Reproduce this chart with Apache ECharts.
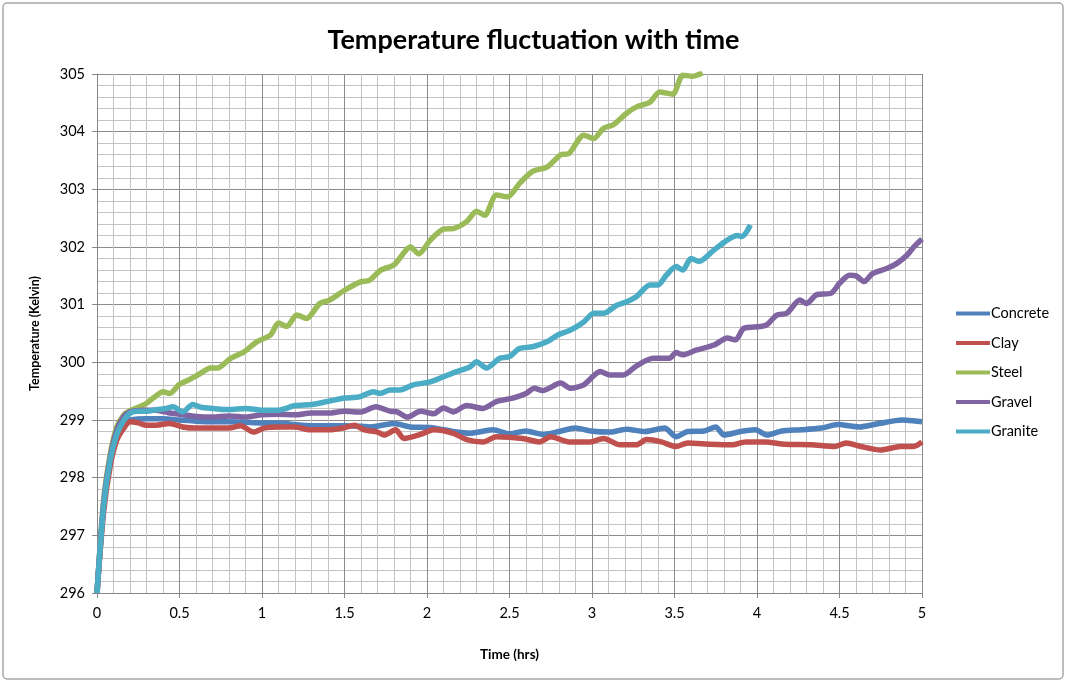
<!DOCTYPE html>
<html>
<head>
<meta charset="utf-8">
<script src="https://cdn.jsdelivr.net/npm/echarts@6/dist/echarts.min.js"></script>
<style>
html,body{margin:0;padding:0;background:#fff;}
#chart{width:1067px;height:683px;}
</style>
</head>
<body>
<div id="chart"></div>
<script>
var seriesNames = ["Concrete", "Clay", "Steel", "Gravel", "Granite"];
var seriesColors = ["#4F81BD", "#C0504D", "#9BBB59", "#8064A2", "#4BACC6"];
var xTicks = [0, 0.5, 1, 1.5, 2, 2.5, 3, 3.5, 4, 4.5, 5];

var concrete = [[0,296],[0.04,297.5],[0.08,298.3],[0.12,298.75],[0.16,298.95],[0.2,299.0],[0.3,299.02],[0.4,299.02],[0.5,299.0],[0.6,298.98],[0.7,298.97],[0.8,298.97],[0.9,298.96],[1.0,298.95],[1.1,298.95],[1.2,298.92],[1.3,298.9],[1.4,298.9],[1.5,298.9],[1.6,298.89],[1.655,298.88],[1.8,298.94],[1.9,298.88],[2.02,298.87],[2.16,298.8],[2.26,298.77],[2.4,298.83],[2.5,298.76],[2.6,298.81],[2.7,298.75],[2.8,298.8],[2.9,298.86],[2.99,298.81],[3.11,298.79],[3.21,298.84],[3.32,298.8],[3.44,298.86],[3.51,298.71],[3.58,298.8],[3.68,298.81],[3.75,298.88],[3.8,298.74],[3.9,298.8],[3.99,298.83],[4.06,298.74],[4.15,298.81],[4.27,298.83],[4.39,298.86],[4.49,298.92],[4.62,298.88],[4.74,298.94],[4.88,299.0],[5.0,298.97]];

var clay = [[0,296],[0.04,297.4],[0.08,298.2],[0.12,298.65],[0.16,298.85],[0.2,298.97],[0.25,298.95],[0.3,298.91],[0.36,298.91],[0.44,298.94],[0.52,298.88],[0.6,298.86],[0.7,298.86],[0.8,298.86],[0.87,298.9],[0.95,298.79],[1.01,298.86],[1.1,298.88],[1.2,298.88],[1.29,298.83],[1.41,298.83],[1.49,298.86],[1.56,298.91],[1.62,298.83],[1.7,298.79],[1.74,298.74],[1.81,298.83],[1.86,298.68],[1.96,298.75],[2.04,298.83],[2.16,298.77],[2.24,298.66],[2.34,298.62],[2.42,298.71],[2.58,298.68],[2.68,298.62],[2.75,298.71],[2.86,298.62],[2.99,298.62],[3.07,298.68],[3.17,298.57],[3.27,298.57],[3.33,298.66],[3.42,298.62],[3.51,298.54],[3.58,298.6],[3.72,298.58],[3.85,298.57],[3.93,298.62],[4.05,298.62],[4.17,298.58],[4.33,298.57],[4.47,298.54],[4.54,298.6],[4.63,298.54],[4.75,298.48],[4.87,298.54],[4.95,298.54],[5.0,298.62]];

var steel = [[0,296],[0.04,297.6],[0.08,298.4],[0.12,298.88],[0.16,299.08],[0.2,299.16],[0.25,299.22],[0.29,299.27],[0.34,299.38],[0.4,299.49],[0.44,299.46],[0.5,299.62],[0.56,299.7],[0.61,299.78],[0.69,299.9],[0.73,299.9],[0.81,300.07],[0.89,300.18],[0.97,300.36],[1.05,300.47],[1.1,300.68],[1.15,300.62],[1.21,300.82],[1.27,300.76],[1.35,301.02],[1.41,301.08],[1.5,301.25],[1.6,301.4],[1.65,301.42],[1.72,301.6],[1.8,301.69],[1.9,302.0],[1.95,301.88],[2.02,302.12],[2.1,302.31],[2.16,302.32],[2.24,302.44],[2.3,302.62],[2.35,302.55],[2.42,302.9],[2.49,302.87],[2.56,303.1],[2.64,303.31],[2.73,303.39],[2.81,303.6],[2.86,303.62],[2.95,303.94],[3.01,303.88],[3.07,304.06],[3.13,304.12],[3.21,304.32],[3.27,304.43],[3.35,304.51],[3.41,304.69],[3.49,304.65],[3.55,304.98],[3.61,304.96],[3.67,305.02]];

var gravel = [[0,296],[0.04,297.55],[0.08,298.35],[0.12,298.82],[0.16,299.05],[0.2,299.14],[0.28,299.17],[0.36,299.17],[0.44,299.12],[0.5,299.1],[0.6,299.06],[0.7,299.05],[0.8,299.07],[0.9,299.05],[1.0,299.09],[1.1,299.1],[1.2,299.09],[1.3,299.12],[1.4,299.12],[1.5,299.15],[1.6,299.14],[1.69,299.23],[1.78,299.15],[1.82,299.14],[1.88,299.05],[1.96,299.15],[2.04,299.11],[2.1,299.21],[2.16,299.14],[2.24,299.25],[2.34,299.2],[2.42,299.32],[2.52,299.38],[2.6,299.46],[2.65,299.55],[2.7,299.51],[2.81,299.64],[2.87,299.55],[2.95,299.61],[3.05,299.84],[3.11,299.78],[3.19,299.78],[3.27,299.94],[3.37,300.07],[3.47,300.07],[3.51,300.17],[3.55,300.13],[3.63,300.21],[3.74,300.3],[3.82,300.42],[3.87,300.39],[3.92,300.59],[4.02,300.62],[4.06,300.65],[4.12,300.82],[4.18,300.85],[4.26,301.08],[4.3,301.02],[4.36,301.17],[4.45,301.2],[4.5,301.37],[4.56,301.51],[4.6,301.5],[4.65,301.4],[4.7,301.54],[4.79,301.63],[4.85,301.72],[4.91,301.86],[4.95,302.0],[5.0,302.14]];

var granite = [[0,296],[0.04,297.5],[0.08,298.3],[0.12,298.75],[0.16,298.98],[0.2,299.12],[0.25,299.15],[0.3,299.15],[0.36,299.18],[0.42,299.2],[0.46,299.23],[0.52,299.14],[0.58,299.27],[0.63,299.22],[0.7,299.2],[0.8,299.18],[0.9,299.2],[1.0,299.17],[1.1,299.17],[1.2,299.25],[1.3,299.27],[1.41,299.33],[1.5,299.38],[1.59,299.4],[1.675,299.49],[1.715,299.46],[1.776,299.52],[1.836,299.52],[1.917,299.61],[2.02,299.66],[2.1,299.75],[2.18,299.84],[2.26,299.92],[2.3,300.01],[2.36,299.9],[2.44,300.07],[2.5,300.1],[2.56,300.24],[2.64,300.27],[2.73,300.36],[2.79,300.47],[2.87,300.56],[2.95,300.7],[3.01,300.85],[3.07,300.85],[3.15,300.99],[3.21,301.05],[3.27,301.14],[3.35,301.34],[3.4,301.34],[3.45,301.51],[3.51,301.66],[3.55,301.6],[3.6,301.8],[3.65,301.75],[3.74,301.95],[3.82,302.12],[3.88,302.2],[3.91,302.18],[3.96,302.38]];

var seriesData = [concrete, clay, steel, gravel, granite];

var FONT = 'Lato, "Open Sans", sans-serif';
var chart = echarts.init(document.getElementById('chart'));
var option = {
  backgroundColor: '#ffffff',
  animation: false,
  title: {
    text: 'Temperature fluctuation with time',
    left: 'center',
    top: 22,
    textStyle: { fontFamily: FONT, fontSize: 27, fontWeight: 'bold', color: '#000' }
  },
  graphic: [{
    type: 'rect',
    shape: { x: 3, y: 3, width: 1060, height: 676, r: 4 },
    style: { fill: 'none', stroke: '#a6a6a6', lineWidth: 1.5 },
    silent: true
  }],
  legend: {
    orient: 'vertical',
    left: 951,
    top: 301,
    itemGap: 14.5,
    itemWidth: 34,
    itemHeight: 4,
    icon: 'rect',
    textStyle: { fontFamily: FONT, fontSize: 14.5, color: '#000', padding: [0, 0, 0, -4] },
    data: seriesNames
  },
  grid: { left: 97, right: 145, top: 74, bottom: 90 },
  xAxis: {
    type: 'value', min: 0, max: 5, interval: 0.5,
    name: 'Time (hrs)', nameLocation: 'middle', nameGap: 55,
    nameTextStyle: { fontFamily: FONT, fontSize: 13.5, fontWeight: 'bold', color: '#000' },
    axisLine: { show: true, lineStyle: { color: '#868686', width: 1 } },
    axisTick: { show: true, length: 5, inside: false, lineStyle: { color: '#868686' } },
    minorTick: { show: false, splitNumber: 5 },
    axisLabel: {
      fontFamily: FONT, fontSize: 14.5, color: '#000', margin: 13,
      formatter: function (v) { return xTicks.indexOf(v) >= 0 ? String(v) : ''; }
    },
    splitLine: { show: true, lineStyle: { color: '#8c8c8c', width: 1 } },
    minorSplitLine: { show: true, lineStyle: { color: '#c4c4c4', width: 1 } }
  },
  yAxis: {
    type: 'value', min: 296, max: 305, interval: 1,
    name: 'Temperature (Kelvin)', nameLocation: 'middle', nameGap: 56, nameRotate: 90,
    nameTextStyle: { fontFamily: FONT, fontSize: 12.5, fontWeight: 'bold', color: '#000' },
    axisLine: { show: true, lineStyle: { color: '#868686', width: 1 } },
    axisTick: { show: true, length: 5, lineStyle: { color: '#868686' } },
    minorTick: { show: false, splitNumber: 5 },
    axisLabel: { fontFamily: FONT, fontSize: 14.5, color: '#000', margin: 12 },
    splitLine: { show: true, lineStyle: { color: '#8c8c8c', width: 1 } },
    minorSplitLine: { show: true, lineStyle: { color: '#c4c4c4', width: 1 } }
  },
  series: seriesNames.map(function (n, i) {
    return {
      name: n,
      type: 'line',
      data: seriesData[i],
      showSymbol: false,
      symbol: 'none',
      smooth: 0.25,
      clip: true,
      color: seriesColors[i],
      lineStyle: { width: 5.5, color: seriesColors[i] }
    };
  })
};
chart.setOption(option);
</script>
</body>
</html>
